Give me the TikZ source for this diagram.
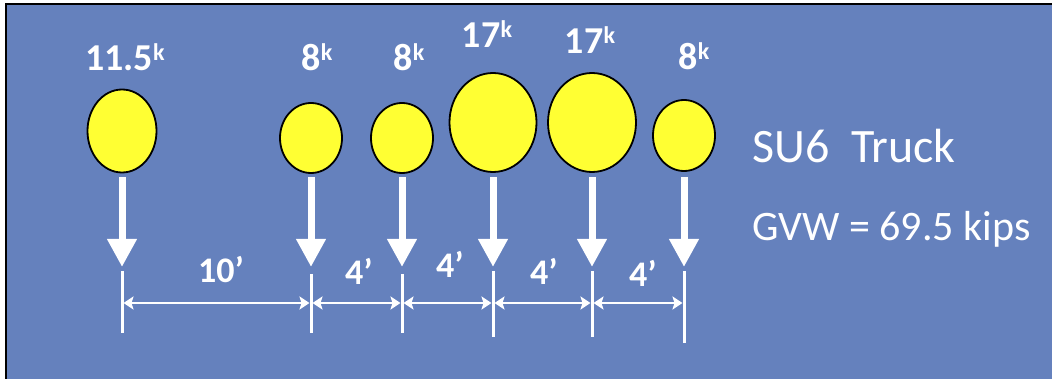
\documentclass[tikz,border=0pt]{standalone}
\usepackage{fontspec}
\setmainfont{Carlito}
\usetikzlibrary{shapes.geometric,arrows.meta}
\definecolor{bg}{RGB}{101,129,189}
\definecolor{wheelyellow}{RGB}{255,255,51}
\newcommand\kipsup{\raisebox{10pt}{\fontsize{24}{24}\selectfont k}}
\tikzset{
  wheel/.style={ellipse,draw=black,line width=1.8pt,fill=wheelyellow,inner sep=0pt},
  load/.style={text=white,font=\bfseries\fontsize{38}{40}\selectfont,anchor=base,inner sep=0pt},
  spacing/.style={text=white,font=\bfseries\fontsize{36}{40}\selectfont,anchor=base,inner sep=0pt},
  info/.style={text=white,anchor=base west,inner sep=0pt},
  force/.style={draw=white,line width=7pt,-{Triangle[width=28pt,length=28pt]}},
  tick/.style={draw=white,line width=3pt},
  dim/.style={draw=white,line width=2.2pt,{Stealth[length=10pt,width=13pt,inset=2pt]}-{Stealth[length=10pt,width=13pt,inset=2pt]}}
}
\begin{document}
\begin{tikzpicture}[x=1pt,y=-1pt]
\useasboundingbox (0,0) rectangle (1052,379);
\fill[white] (0,0) rectangle (1052,379);
\fill[bg] (6,4) rectangle (1052,379);
\draw[black,line width=2pt] (6,379) -- (6,4) -- (1052,4);
% wheels
\node[wheel,minimum width=69pt,minimum height=83pt] (w1) at (122,131) {};
\node[wheel,minimum width=62pt,minimum height=70pt] (w2) at (311,138) {};
\node[wheel,minimum width=62pt,minimum height=70pt] (w3) at (402,138) {};
\node[wheel,minimum width=87pt,minimum height=99pt] (w4) at (493,122.5) {};
\node[wheel,minimum width=88pt,minimum height=99pt] (w5) at (592,122.5) {};
\node[wheel,minimum width=62pt,minimum height=71pt] (w6) at (684,135.5) {};
% loads
\node[load] (l1) at (125,71) {11.5\kipsup};
\node[load] (l2) at (317,71) {8\kipsup};
\node[load] (l3) at (409,71) {8\kipsup};
\node[load] (l4) at (487,48) {17\kipsup};
\node[load] (l5) at (590,54) {17\kipsup};
\node[load] (l6) at (694,70) {8\kipsup};
% arrows
\foreach \i/\x in {1/122,2/311,3/402,4/493,5/592,6/684}{
  \coordinate (t\i) at (\x,267);
  \coordinate (a\i) at (\x,177);
  \draw[force] (a\i) -- (t\i);
  \coordinate (d\i) at (\x,303);
}
% ticks
\coordinate (u1) at (122,271); \coordinate (b1) at (122,333);
\coordinate (u2) at (311,274); \coordinate (b2) at (311,333);
\coordinate (u3) at (402,274); \coordinate (b3) at (402,333);
\coordinate (u4) at (493,271); \coordinate (b4) at (493,337);
\coordinate (u5) at (592,271); \coordinate (b5) at (592,337);
\coordinate (u6) at (684,271); \coordinate (b6) at (684,343);
\foreach \i in {1,...,6}{ \draw[tick] (u\i) -- (b\i); }
% dimension lines
\draw[dim] ([xshift=1.5pt]d1) -- ([xshift=-1.5pt]d2);
\draw[dim] ([xshift=1.5pt]d2) -- ([xshift=-1.5pt]d3);
\draw[dim] ([xshift=1.5pt]d3) -- ([xshift=-1.5pt]d4);
\draw[dim] ([xshift=1.5pt]d4) -- ([xshift=-1.5pt]d5);
\draw[dim] ([xshift=1.5pt]d5) -- ([xshift=-1.5pt]d6);
% spacing labels
\node[spacing] (s1) at (221,283) {10’};
\node[spacing] (s2) at (359,285) {4’};
\node[spacing] (s3) at (450,278) {4’};
\node[spacing] (s4) at (544,285) {4’};
\node[spacing] (s5) at (643,287) {4’};
% info
\node[info,font=\fontsize{48}{52}\selectfont] (title) at (752,163) {SU6\ \ Truck};
\node[info,font=\fontsize{42}{46}\selectfont] (gvw) at (752,241) {GVW = 69.5 kips};
\end{tikzpicture}
\end{document}
